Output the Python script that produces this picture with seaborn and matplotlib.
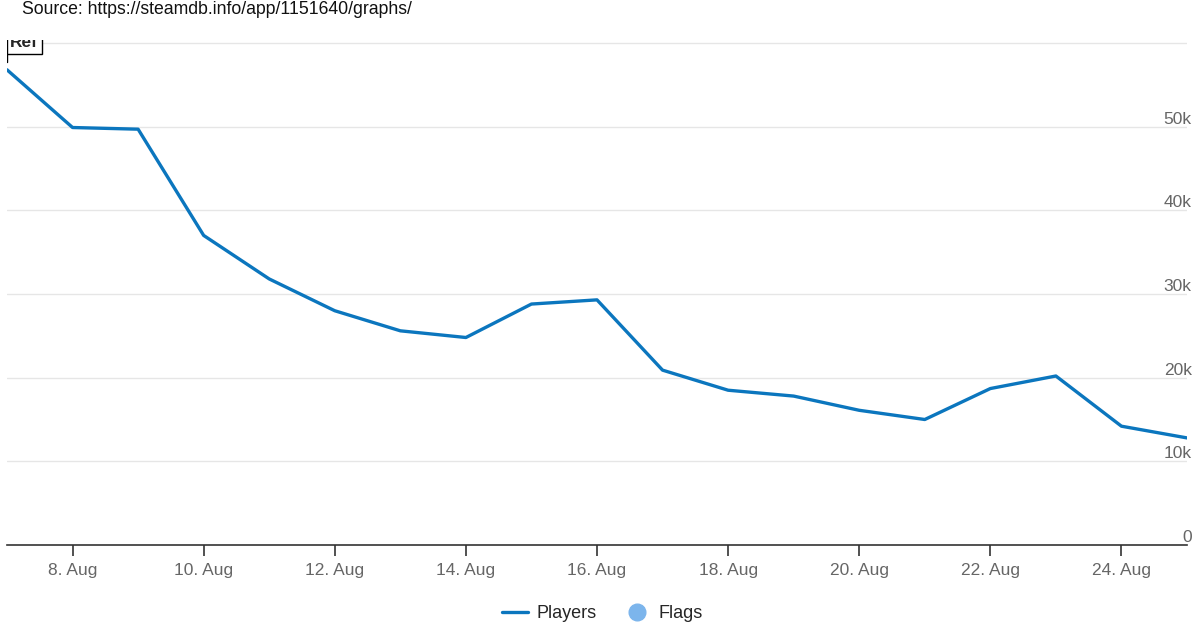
import pandas as pd
import matplotlib
matplotlib.use("Agg")
import matplotlib.pyplot as plt
import matplotlib.dates as mdates
from matplotlib.lines import Line2D
import seaborn as sns

# Daily peak players, 7 Aug .. 25 Aug
dates = pd.date_range("2020-08-07", "2020-08-25", freq="D")
players = [56800, 49900, 49700, 37000, 31800, 28000, 25600, 24800, 28800,
           29300, 20900, 18500, 17800, 16100, 15000, 18700, 20200, 14200, 12800]
y_ticks = [0, 10000, 20000, 30000, 40000, 50000, 60000]
y_labels = ["0", "10k", "20k", "30k", "40k", "50k", ""]

df = pd.DataFrame({"date": dates, "players": players})

sns.set_style("white")
plt.rcParams["font.family"] = ["Liberation Sans", "DejaVu Sans"]

fig = plt.figure(figsize=(12, 6.3), dpi=100)
ax = fig.add_axes([7 / 1200, 85 / 630, 1180 / 1200, 505 / 630])

line_color = "#0b76be"
sns.lineplot(data=df, x="date", y="players", ax=ax, color=line_color, lw=2.4)

ax.set_xlim(dates[0], dates[-1])
ax.set_ylim(0, 60360)

# light horizontal gridlines
for v in y_ticks[1:]:
    ax.axhline(v, color="#e6e6e6", lw=1, zorder=0)

# y labels sit just above the gridlines at the right edge
for v, lab in zip(y_ticks, y_labels):
    ax.text(1.004, v + 350, lab, transform=ax.get_yaxis_transform(), ha="right",
            va="baseline", fontsize=12.5, color="#666666", clip_on=False)

ax.set_yticks([])
ax.set_xlabel("")
ax.set_ylabel("")
for s in ["top", "right", "left"]:
    ax.spines[s].set_visible(False)
ax.spines["bottom"].set_color("#333333")
ax.spines["bottom"].set_linewidth(1.2)

ax.xaxis.set_major_locator(mdates.DayLocator(bymonthday=range(8, 25, 2)))
ax.xaxis.set_major_formatter(mdates.DateFormatter("%-d. %b"))
ax.tick_params(axis="x", direction="out", length=8, width=1.2, color="#333333",
               labelsize=12.5, labelcolor="#666666", pad=5, bottom=True)

# "Ref" flag on the first day, clipped at the top of the plot area
ax.plot([dates[0], dates[0]], [57750, 58700], color="black", lw=1, zorder=4)
ax.text(dates[0] + pd.Timedelta(hours=1.2), 59500, "Ref", fontsize=12.5, fontweight="bold",
        ha="left", va="baseline", clip_on=True, zorder=5,
        bbox=dict(boxstyle="square,pad=0.2", fc="white", ec="black", lw=1))

fig.text(22 / 1200, 1 - 10 / 630, "Source: https://steamdb.info/app/1151640/graphs/",
         fontsize=12.7, color="#111111", va="center", ha="left")

handles = [
    Line2D([0], [0], color=line_color, lw=2.4),
    Line2D([0], [0], marker="o", color="none", markerfacecolor="#7cb5ec",
           markeredgecolor="#7cb5ec", markersize=12),
]
fig.legend(handles, ["Players", "Flags"], loc="center", bbox_to_anchor=(0.502, 1 - 614 / 630),
           ncol=2, frameon=False, fontsize=13, handlelength=1.4, columnspacing=1.5,
           handletextpad=0.5)

fig.savefig("out.png", dpi=100)
